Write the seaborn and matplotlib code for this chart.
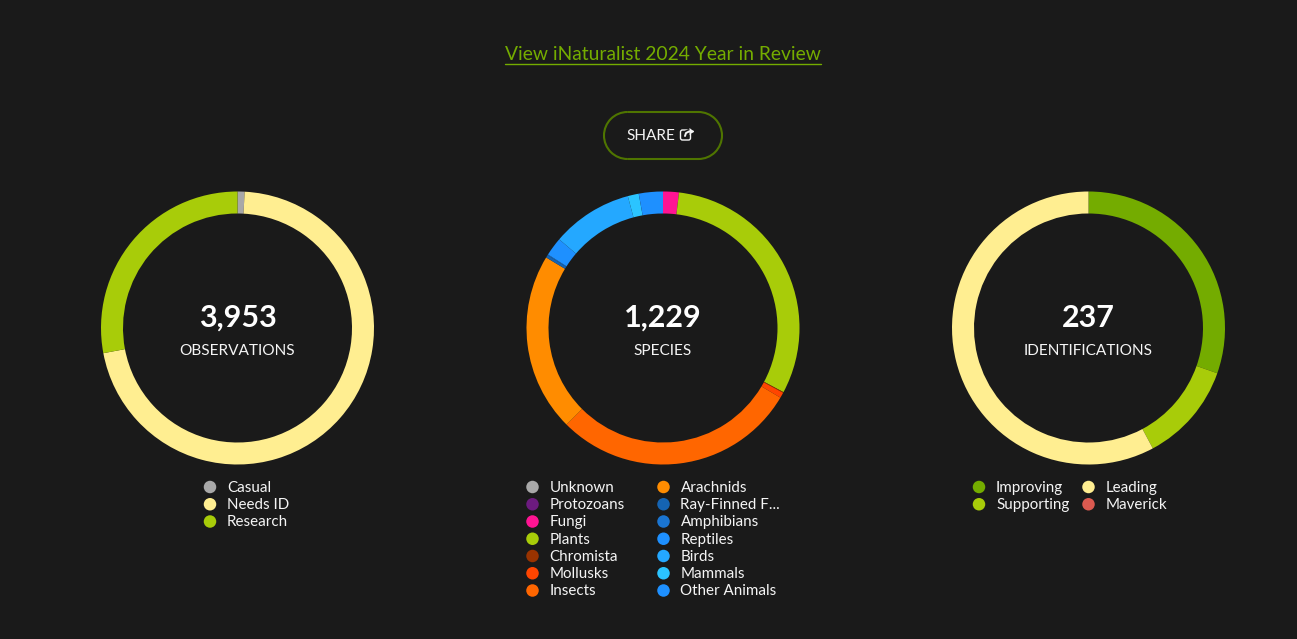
"""activity donuts"""
import pandas as pd
import matplotlib.pyplot as plt
from matplotlib.patches import Arc, FancyBboxPatch
import seaborn as sns

W, H = 1297, 639
BG = "#1a1a1a"
FG = "#f5f5f5"

obs_labels = ["Casual", "Needs ID", "Research"]
obs_values = [33, 2815, 1105]
obs_colors = ["#a8a8a8", "#ffee91", "#a8cc09"]

species_labels = ["Unknown", "Protozoans", "Fungi", "Plants", "Chromista", "Mollusks", "Insects",
                  "Arachnids", "Ray-Finned F...", "Amphibians", "Reptiles", "Birds", "Mammals", "Other Animals"]
species_values = [0, 0, 23, 380, 1, 8, 356, 260, 4, 1, 27, 118, 16, 35]
species_colors = ["#a8a8a8", "#6c1b7f", "#ff1493", "#a8cc09", "#993300", "#ff4500", "#ff6600",
                  "#ff8c00", "#1564b3", "#1a75d2", "#1e90ff", "#24a8ff", "#2bc4ff", "#1e90ff"]

ident_labels = ["Improving", "Supporting", "Leading", "Maverick"]
ident_values = [72, 28, 137, 0]
ident_colors = ["#74ac00", "#a8cc09", "#ffee91", "#dc5a50"]

totals = ["3,953", "1,229", "237"]
captions = ["OBSERVATIONS", "SPECIES", "IDENTIFICATIONS"]

sns.set_theme(style="dark", rc={"figure.facecolor": BG, "axes.facecolor": BG})
plt.rcParams["font.family"] = ["Lato", "Open Sans", "DejaVu Sans"]

fig = plt.figure(figsize=(W / 100, H / 100), dpi=100)
ax = fig.add_axes([0, 0, 1, 1])


def donut(values, colors, cx):
    ax.pie(values, colors=colors, center=(cx, H - 328), radius=136.5, startangle=90, counterclock=False,
           wedgeprops={"width": 22, "linewidth": 0}, frame=True)


def legend_dots(labels, colors, x0, x1, rows):
    # dots in two columns, row height 17.25px
    rec = []
    for i, lab in enumerate(labels):
        col = i // rows
        rec.append({"x": x1 if col else x0, "y": H - (487 + (i % rows) * 17.25), "label": lab})
    d = pd.DataFrame(rec)
    sns.scatterplot(data=d, x="x", y="y", hue="label", palette=dict(zip(labels, colors)), s=81, linewidth=0,
                    legend=False, ax=ax, zorder=3)
    for r in rec:
        ax.text(r["x"] + 17, r["y"] - 0.8, r["label"], color=FG, fontsize=10.9, va="center", ha="left")


donut(obs_values, obs_colors, 237.5)
donut(species_values, species_colors, 663)
donut(ident_values, ident_colors, 1088.5)

for cx, t, c in zip([237.5, 663, 1088.5], totals, captions):
    ax.text(cx, H - 318, t, color="white", fontsize=22, fontweight="bold", ha="center", va="center")
    ax.text(cx, H - 351.3, c, color=FG, fontsize=11.1, ha="center", va="center")

legend_dots(obs_labels, obs_colors, 210, 210, 3)
legend_dots(species_labels, species_colors, 532.5, 663.5, 7)
legend_dots(ident_labels, ident_colors, 979, 1088.5, 2)

# link and share button
ax.text(663, H - 55, "View iNaturalist 2024 Year in Review", color="#74ac00", fontsize=13.9, ha="center", va="center")
ax.plot([505, 821], [H - 63.5, H - 63.5], color="#74ac00", lw=1)
btn = {"color": "#4f7500", "lw": 1.5}
ax.add_patch(Arc((627.5, H - 135.5), 47, 47, theta1=90, theta2=270, **btn))
ax.add_patch(Arc((698.5, H - 135.5), 47, 47, theta1=-90, theta2=90, **btn))
ax.plot([627.5, 698.5], [H - 112, H - 112], **btn)
ax.plot([627.5, 698.5], [H - 159, H - 159], **btn)
ax.text(626.5, H - 136, "SHARE", color=FG, fontsize=11.1, ha="left", va="center")
# share icon
ax.add_patch(FancyBboxPatch((680.5, H - 140), 10, 10, boxstyle="round,pad=0,rounding_size=2",
                            fc="none", ec=FG, lw=1))
ax.plot([685, 686, 689, 693], [H - 136, H - 133, H - 131.5, H - 131.5], color=BG, lw=3.5, zorder=4)
ax.plot([685, 686, 689, 693], [H - 136, H - 133, H - 131.5, H - 131.5], color=FG, lw=1.4, zorder=5)
ax.fill([689.5, 694, 689.5], [H - 128, H - 131.5, H - 135], color=FG, lw=0, zorder=5)

ax.set_xlim(0, W)
ax.set_ylim(0, H)
ax.set_aspect("equal")
ax.set_xlabel("")
ax.set_ylabel("")
ax.set_xticks([])
ax.set_yticks([])
for s in ax.spines.values():
    s.set_visible(False)

fig.savefig("out.png", dpi=100, facecolor=BG)
